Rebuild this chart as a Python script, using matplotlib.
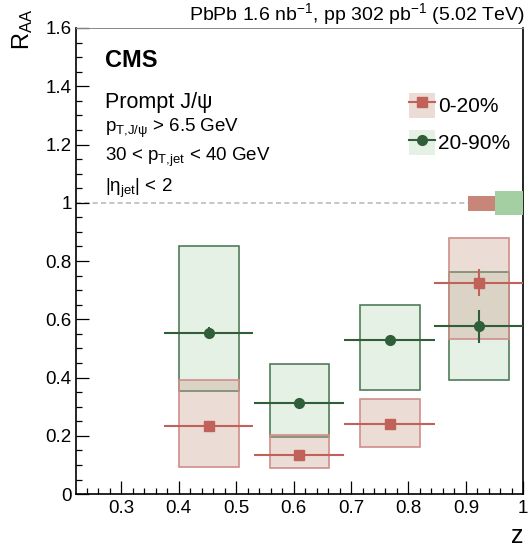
import numpy as np
import matplotlib
matplotlib.use("Agg")
import matplotlib.pyplot as plt
from matplotlib.patches import Rectangle, Patch
from matplotlib.lines import Line2D
from matplotlib.ticker import MultipleLocator

plt.rcParams['font.family'] = ['Liberation Sans', 'DejaVu Sans']
plt.rcParams['mathtext.fontset'] = 'custom'
plt.rcParams['mathtext.rm'] = 'Liberation Sans'
plt.rcParams['mathtext.it'] = 'Liberation Sans:italic'

# z bins
z_center = [0.4525, 0.61, 0.7675, 0.9225]
z_halfw = [0.0775, 0.0785, 0.079, 0.0775]
box_halfw = 0.052

# 0-20% centrality
raa_cent = [0.234, 0.135, 0.240, 0.726]
stat_cent = [0.008, 0.008, 0.008, 0.045]
syst_lo_cent = [0.093, 0.088, 0.161, 0.532]
syst_hi_cent = [0.391, 0.202, 0.325, 0.879]

# 20-90% centrality
raa_peri = [0.552, 0.314, 0.530, 0.576]
stat_peri = [0.021, 0.008, 0.012, 0.057]
syst_lo_peri = [0.353, 0.196, 0.357, 0.392]
syst_hi_peri = [0.851, 0.446, 0.649, 0.762]

# global uncertainties at R_AA = 1
glob_cent = [0.971, 1.025]
glob_peri = [0.958, 1.039]

red = "#c0625a"
red_fill = (0.79, 0.62, 0.55, 0.36)
red_edge = "#d08e8a"
green = "#2f5e38"
green_fill = "#e6f1e6"
green_edge = "#4f7c58"

fig = plt.figure(figsize=(5.28, 5.49), dpi=100)
ax = fig.add_axes([0.144, 0.100, 0.847, 0.849])

# systematic boxes
for i in range(len(z_center)):
    ax.add_patch(Rectangle((z_center[i] - box_halfw, syst_lo_peri[i]), 2 * box_halfw,
                           syst_hi_peri[i] - syst_lo_peri[i], facecolor=green_fill,
                           edgecolor=green_edge, lw=1.2, zorder=1))
for i in range(len(z_center)):
    ax.add_patch(Rectangle((z_center[i] - box_halfw, syst_lo_cent[i]), 2 * box_halfw,
                           syst_hi_cent[i] - syst_lo_cent[i], facecolor=red_fill,
                           edgecolor=red_edge, lw=1.2, zorder=2))

ax.axhline(1.0, color="#bbbbbb", ls=(0, (3, 2)), lw=1.2, zorder=0)

# global uncertainty boxes
ax.add_patch(Rectangle((0.904, glob_cent[0]), 0.047, glob_cent[1] - glob_cent[0],
                       facecolor="#c8857a", edgecolor="none", zorder=3))
ax.add_patch(Rectangle((0.951, glob_peri[0]), 0.049, glob_peri[1] - glob_peri[0],
                       facecolor="#a3cfa3", edgecolor="none", zorder=3))

ax.errorbar(z_center, raa_peri, xerr=z_halfw, yerr=stat_peri, fmt="o", color=green,
            ms=7, elinewidth=1.5, capsize=0, zorder=4)
ax.errorbar(z_center, raa_cent, xerr=z_halfw, yerr=stat_cent, fmt="s", color=red,
            ms=7, elinewidth=1.5, capsize=0, zorder=5)

ax.set_xlim(0.221, 1.0)
ax.set_ylim(0, 1.6)
ax.xaxis.set_major_locator(MultipleLocator(0.1))
ax.xaxis.set_minor_locator(MultipleLocator(0.02))
ax.yaxis.set_major_locator(MultipleLocator(0.2))
ax.yaxis.set_minor_locator(MultipleLocator(0.05))
ax.tick_params(which="both", direction="in", top=False, right=False, labelsize=13.5, width=0.9)
ax.tick_params(which="major", length=9.4)
ax.tick_params(which="minor", length=4.5)
ax.tick_params(axis="x", pad=4.5)
ax.tick_params(axis="y", pad=3)
ax.spines["top"].set_color("#888888")
ax.spines["top"].set_linewidth(0.7)
for s in ["left", "bottom", "right"]:
    ax.spines[s].set_linewidth(1.2)
ax.set_xticks([0.3, 0.4, 0.5, 0.6, 0.7, 0.8, 0.9, 1.0])
ax.set_xticklabels(["0.3", "0.4", "0.5", "0.6", "0.7", "0.8", "0.9", "1"])
ax.set_yticks([0, 0.2, 0.4, 0.6, 0.8, 1.0, 1.2, 1.4, 1.6])
ax.set_yticklabels(["0", "0.2", "0.4", "0.6", "0.8", "1", "1.2", "1.4", "1.6"])

ax.set_xlabel("z", fontsize=18, ha="right", va="baseline")
ax.xaxis.set_label_coords(1.0, -0.105)
fig.text(10 / 528, 1 - 9 / 549, r"R$_{\mathregular{AA}}$", fontsize=17,
         rotation=90, ha="left", va="top")

fig.text(0.994, 0.9636, r"PbPb 1.6 nb$^{\mathregular{-1}}$, pp 302 pb$^{\mathregular{-1}}$ (5.02 TeV)",
         ha="right", va="baseline", fontsize=14)
ax.text(0.065, 0.917, "CMS", transform=ax.transAxes, fontsize=17, fontweight="bold", va="baseline")
ax.text(0.065, 0.828, "Prompt J/ψ", transform=ax.transAxes, fontsize=15.5, va="baseline")
ax.text(0.065, 0.777, r"p$_{\mathregular{T{,}J/ψ}}$ > 6.5 GeV", transform=ax.transAxes, fontsize=13.5, va="baseline")
ax.text(0.065, 0.715, r"30 < p$_{\mathregular{T{,}jet}}$ < 40 GeV", transform=ax.transAxes, fontsize=13.5, va="baseline")
ax.text(0.065, 0.649, r"|η$_{\mathregular{jet}}$| < 2", transform=ax.transAxes, fontsize=13.5, va="baseline")

h_cent = (Patch(facecolor=red_fill, edgecolor="none"),
          Line2D([], [], color=red, marker="s", ms=7, lw=1.5))
h_peri = (Patch(facecolor=green_fill, edgecolor="none"),
          Line2D([], [], color=green, marker="o", ms=7, lw=1.5))
leg = ax.legend([h_cent, h_peri], ["0-20%", "20-90%"], loc="upper left",
                bbox_to_anchor=(0.745, 0.861), frameon=False, fontsize=15,
                handlelength=1.25, handleheight=1.45, handletextpad=0.15,
                labelspacing=0.6, borderpad=0, borderaxespad=0)

fig.savefig("out.png", dpi=100)
